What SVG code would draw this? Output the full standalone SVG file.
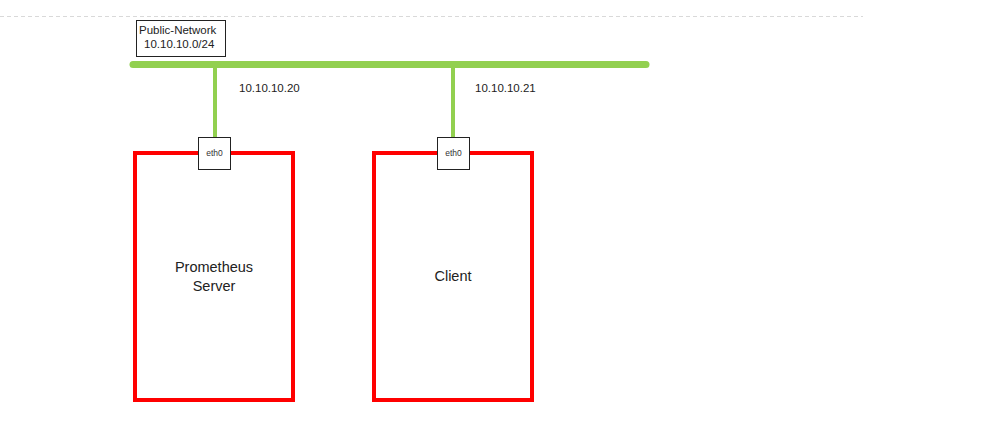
<svg xmlns="http://www.w3.org/2000/svg" width="995" height="423" viewBox="0 0 995 423">
<style>
text{font-family:"Liberation Sans",Arial,sans-serif;fill:#222}
.lbl{font-size:11.5px}
.big{font-size:14.5px;text-anchor:middle}
.eth{font-size:8.5px;text-anchor:middle;fill:#333}
.host{fill:#fff;stroke:#ff0000;stroke-width:4}
.port{fill:#fff;stroke:#222;stroke-width:1}
.link{stroke:#92d050;stroke-width:4;fill:none}
</style>
<rect width="995" height="423" fill="#fff"/>
<line x1="0" y1="16.5" x2="863" y2="16.5" stroke="#d9d9d9" stroke-width="1" stroke-dasharray="4,3"/>
<g id="public-network">
<rect x="136.5" y="20.5" width="89" height="36" fill="#fff" stroke="#222" stroke-width="1"/>
<text class="lbl" x="139" y="34">Public-Network</text>
<text class="lbl" x="144" y="48">10.10.10.0/24</text>
</g>
<g id="connectors">
<line x1="133" y1="64.5" x2="646" y2="64.5" stroke="#92d050" stroke-width="7" stroke-linecap="round"/>
<line class="link" x1="215" y1="64" x2="215" y2="138"/>
<line class="link" x1="453" y1="64" x2="453" y2="138"/>
<text class="lbl" x="239" y="92">10.10.10.20</text>
<text class="lbl" x="475" y="92">10.10.10.21</text>
</g>
<g id="prometheus-server">
<rect class="host" x="135" y="153" width="158" height="247"/>
<text class="big" x="214" y="272">Prometheus</text>
<text class="big" x="214" y="291">Server</text>
</g>
<g id="client">
<rect class="host" x="374" y="153" width="158" height="247"/>
<text class="big" x="453" y="281">Client</text>
</g>
<g id="eth0-server">
<rect class="port" x="198.5" y="137.5" width="32" height="32"/>
<text class="eth" x="214.5" y="156">eth0</text>
</g>
<g id="eth0-client">
<rect class="port" x="437.5" y="137.5" width="32" height="32"/>
<text class="eth" x="453.5" y="156">eth0</text>
</g>
</svg>
